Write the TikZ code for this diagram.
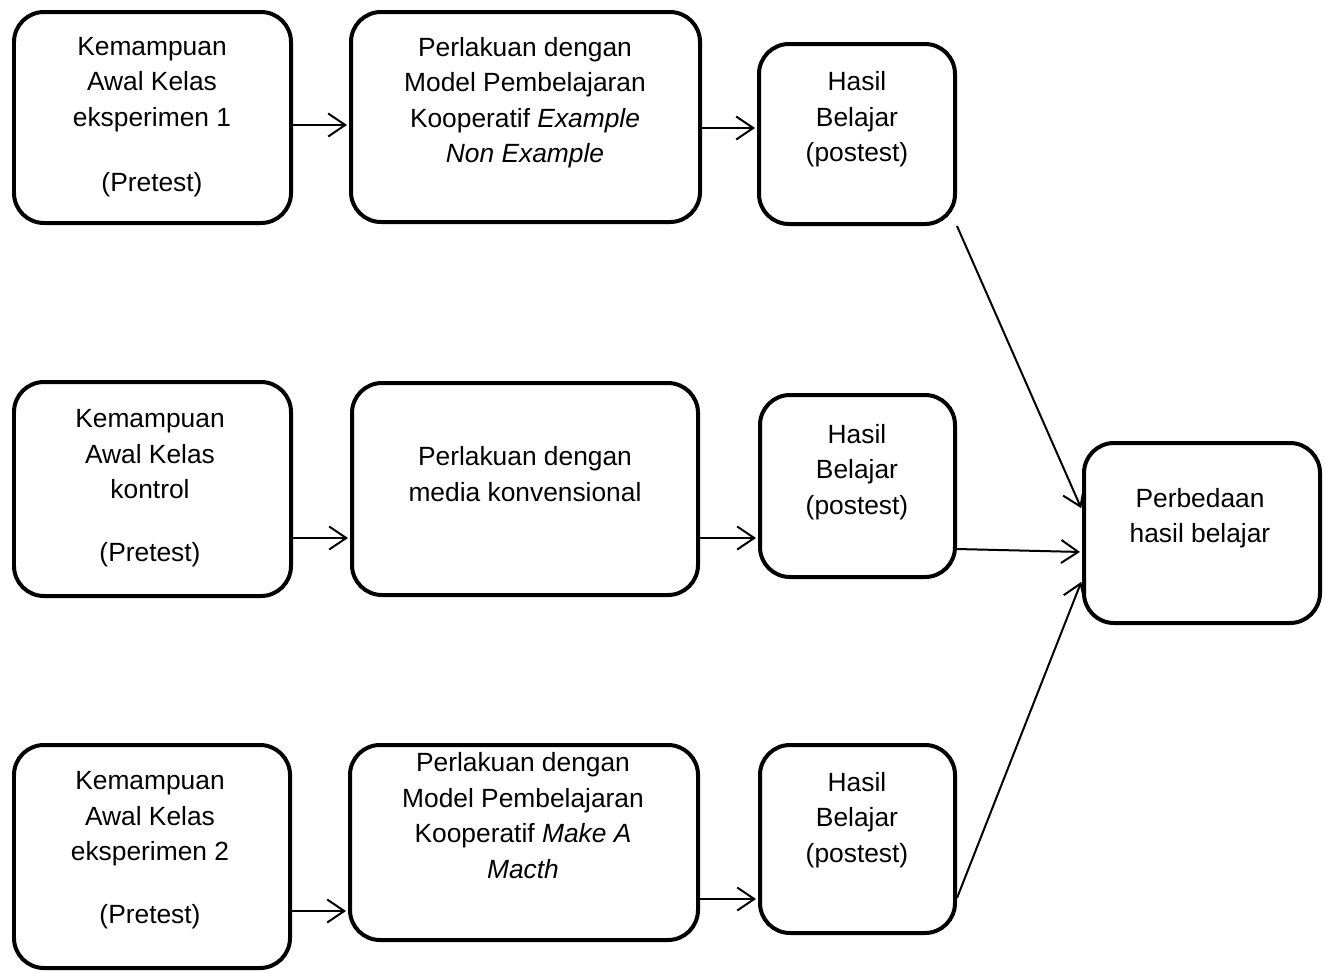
\documentclass[tikz,border=0pt]{standalone}
\usepackage{fontspec}
\setmainfont{Liberation Sans}
\usetikzlibrary{arrows.meta,fit}
\begin{document}
\begin{tikzpicture}[x=0.02cm,y=-0.02cm,
  box/.style={draw, line width=0.08cm, rounded corners=0.6cm, inner sep=0pt},
  txt/.style={align=center, font=\fontsize{15pt}{20.2pt}\selectfont, inner sep=0pt},
  arr/.style={-{Straight Barb[length=0.34cm,width=0.46cm]}, line width=0.04cm, shorten >=0.04cm}]
\useasboundingbox (0,0) rectangle (1326,971);
% boxes
\node[box, fit={(14,12) (291,223)}] (a1) {};
\node[box, fit={(351,12) (700,222)}] (b1) {};
\node[box, fit={(759,44) (955,224)}] (c1) {};
\node[box, fit={(14,382) (291,596)}] (a2) {};
\node[box, fit={(352,383) (698,595)}] (b2) {};
\node[box, fit={(760,395) (955,577)}] (c2) {};
\node[box, fit={(14,745) (290,968)}] (a3) {};
\node[box, fit={(350,745) (698,940)}] (b3) {};
\node[box, fit={(760,745) (955,933)}] (c3) {};
\node[box, fit={(1084,443) (1320,623)}] (d) {};
% texts
\node[txt] (ta1) at (152,117) {Kemampuan\\Awal Kelas\\eksperimen 1\\[0.6cm](Pretest)};
\node[txt] (tb1) at (525,102.5) {Perlakuan dengan\\Model Pembelajaran\\Kooperatif \textit{Example}\\\textit{Non Example}};
\node[txt] (tc1) at (857,119.5) {Hasil\\Belajar\\(postest)};
\node[txt] (ta2) at (150,488.5) {Kemampuan\\Awal Kelas\\kontrol\\[0.55cm](Pretest)};
\node[txt] (tb2) at (525,474) {Perlakuan dengan\\media konvensional};
\node[txt] (tc2) at (857,472) {Hasil\\Belajar\\(postest)};
\node[txt] (ta3) at (150,850.5) {Kemampuan\\Awal Kelas\\eksperimen 2\\[0.55cm](Pretest)};
\node[txt] (tb3) at (523,815.5) {Perlakuan dengan\\Model Pembelajaran\\Kooperatif \textit{Make A}\\\textit{Macth}};
\node[txt] (tc3) at (857,820) {Hasil\\Belajar\\(postest)};
\node[txt] (td) at (1200,518) {Perbedaan\\hasil belajar};
% arrow heights
\coordinate (r1a) at (0,125);
\coordinate (r1b) at (0,128);
\coordinate (r2) at (0,538);
\coordinate (r3a) at (0,911);
\coordinate (r3b) at (0,899);
\coordinate (din1) at (0,510);
\coordinate (din2) at (0,552);
\coordinate (din3) at (0,580);
\coordinate (c2out) at (0,549);
\coordinate (c3out) at (0,898);
% connectors
\draw[arr] (a1.east |- r1a) -- (b1.west |- r1a);
\draw[arr] (b1.east |- r1b) -- (c1.west |- r1b);
\draw[arr] (a2.east |- r2) -- (b2.west |- r2);
\draw[arr] (b2.east |- r2) -- (c2.west |- r2);
\draw[arr] (a3.east |- r3a) -- (b3.west |- r3a);
\draw[arr] (b3.east |- r3b) -- (c3.west |- r3b);
\draw[arr] (c1.south east) -- (d.west |- din1);
\draw[arr] (c2.east |- c2out) -- (d.west |- din2);
\draw[arr] (c3.east |- c3out) -- (d.west |- din3);
\end{tikzpicture}
\end{document}
